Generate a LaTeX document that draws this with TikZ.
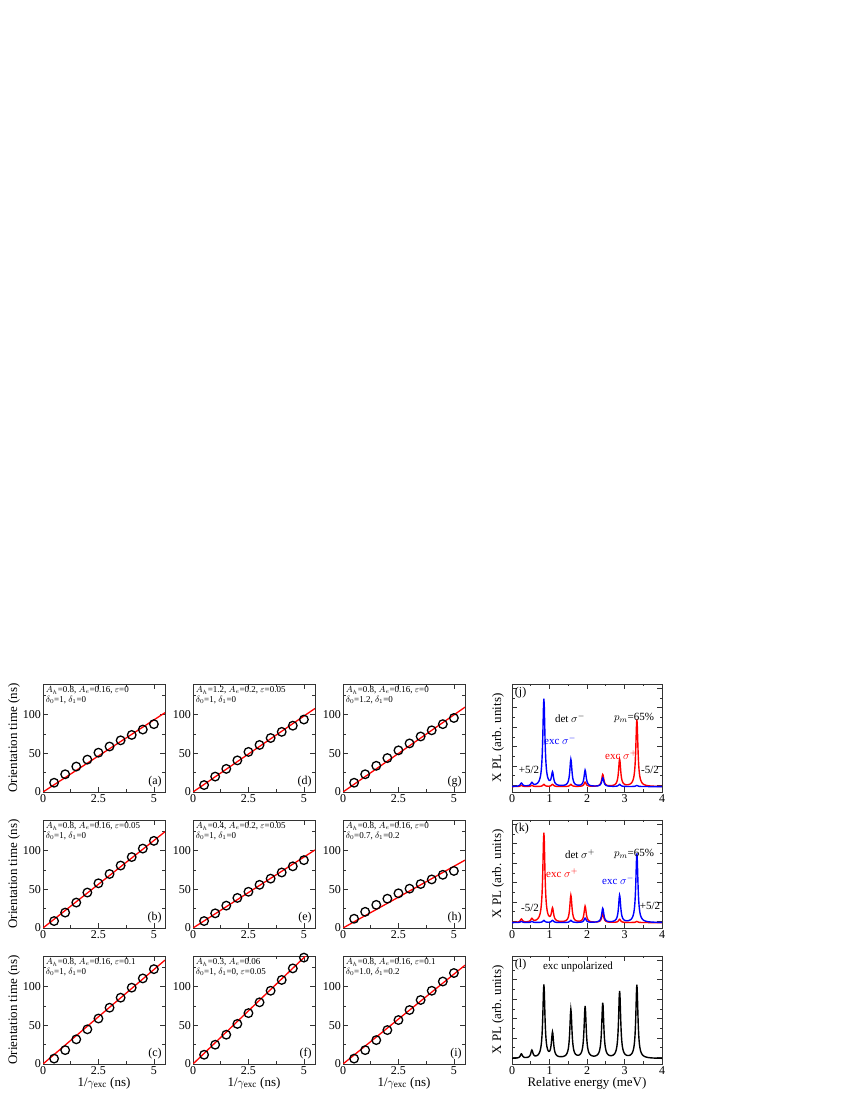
\documentclass[tikz,border=0pt]{standalone}
\usepackage{fontspec}
\setmainfont{Liberation Serif}
\tikzset{
  frame/.style={draw=black!80,line width=0.8pt},
  fitline/.style={red,line width=1.3pt},
  dot/.style={black,line width=1.3pt},
  paneltext/.style={font=\fontsize{9}{10}\selectfont,align=left,inner sep=1pt},
  ticklab/.style={font=\fontsize{12}{12}\selectfont,inner sep=2pt},
  axlab/.style={font=\fontsize{13}{13}\selectfont},
  spec/.style={line width=1.4pt},
  declare function={L(\x,\c)=1/(1+((\x-\c)*(\x-\c))/0.0011);}
}
% panel de tiempos de orientacion
\newcommand{\orpanel}[8]{%
  \begin{scope}[shift={(#1,#2)},x=22.18pt,y=0.771pt]
    \draw[frame] (0,0) rectangle (5.5,140);
    \foreach \v in {0,2.5,5} {\draw[frame] (\v,0) -- ++(0,5pt); \draw[frame] (\v,140) -- ++(0,-5pt);
      \node[ticklab,below] (#8-x\v) at (\v,0) {\v};}
    \foreach \v in {1.25,3.75} {\draw[frame] (\v,0) -- ++(0,2.5pt); \draw[frame] (\v,140) -- ++(0,-2.5pt);}
    \foreach \v in {0,50,100} {\draw[frame] (0,\v) -- ++(5pt,0); \draw[frame] (5.5,\v) -- ++(-5pt,0);
      \node[ticklab,left] (#8-y\v) at (0,\v) {\v};}
    \foreach \v in {25,75,125} {\draw[frame] (0,\v) -- ++(2.5pt,0); \draw[frame] (5.5,\v) -- ++(-2.5pt,0);}
    \begin{scope}
      \clip (0,0) rectangle (5.5,140);
      \draw[fitline] (0,0) -- (5.5,{5.5*#3});
    \end{scope}
    \foreach \py [count=\i] in {#4} \draw[dot] ({\i*0.5},\py) circle (4.3pt);
    \node[paneltext,anchor=north west] (#8-t) at (0.08,138) {#5\\#6};
    \node[ticklab,anchor=south east] (#8-l) at (5.45,3) {(#7)};
  \end{scope}}
% panel de espectros
\newcommand{\plpanel}[4]{%
  \begin{scope}[shift={(#1,#2)},x=37.5pt,y=108pt]
    \draw[frame] (0,0) rectangle (4,1);
    \foreach \v in {0,...,4} {\draw[frame] (\v,0) -- ++(0,5pt); \draw[frame] (\v,1) -- ++(0,-5pt);
      \node[ticklab,below] (#3-x\v) at (\v,0) {\v};}
    \foreach \v in {0.5,1.5,2.5,3.5} {\draw[frame] (\v,0) -- ++(0,2.5pt); \draw[frame] (\v,1) -- ++(0,-2.5pt);}
    \foreach \v in {0.06,0.24,0.42,0.6,0.78,0.96} {\draw[frame] (0,\v) -- ++(5pt,0); \draw[frame] (4,\v) -- ++(-5pt,0);}
    \foreach \v in {0.15,0.33,0.51,0.69,0.87} {\draw[frame] (0,\v) -- ++(2.5pt,0); \draw[frame] (4,\v) -- ++(-2.5pt,0);}
    \begin{scope}
      \clip (0,0) rectangle (4,1);
      #4
    \end{scope}
    \node[ticklab,anchor=north west] (#3-l) at (0.02,0.99) {(#3)};
  \end{scope}}
\newcommand{\spectrum}[2]{%
  \draw[spec,#1] plot[domain=0:4,samples=401] (\x,{0.05+\specsum{#2}});}
\newcommand{\specsum}[1]{\specsumi#1\relax}
\def\specsumi#1,#2,#3,#4,#5,#6,#7,#8,#9\relax{#1*L(\x,0.25)+#2*L(\x,0.53)+#3*L(\x,0.85)+#4*L(\x,1.08)+#5*L(\x,1.57)+#6*L(\x,1.95)+#7*L(\x,2.42)+#8*L(\x,2.87)+#9*L(\x,3.33)}

\begin{document}
\begin{tikzpicture}[x=1pt,y=1pt]
  \useasboundingbox (0,0) rectangle (850,1100);
  % fila superior
  \orpanel{43}{308}{18.7}{12,23,33,42,51,59,67,74,81,88}{$A_h$=0.8, $A_e$=0.16, $\varepsilon$=0}{$\delta_0$=1, $\delta_1$=0}{a}{pa}
  \orpanel{193}{308}{19.7}{9,20,30,41,52,61,70,78,86,94}{$A_h$=1.2, $A_e$=0.2, $\varepsilon$=0.05}{$\delta_0$=1, $\delta_1$=0}{d}{pd}
  \orpanel{343}{308}{20}{12,23,34,44,54,63,72,80,88,96}{$A_h$=0.8, $A_e$=0.16, $\varepsilon$=0}{$\delta_0$=1.2, $\delta_1$=0}{g}{pg}
  % fila media
  \orpanel{43}{172}{22.7}{9,20,33,46,58,70,81,92,103,113}{$A_h$=0.8, $A_e$=0.16, $\varepsilon$=0.05}{$\delta_0$=1, $\delta_1$=0}{b}{pb}
  \orpanel{193}{172}{18.4}{9,19,29,39,47,56,64,72,80,88}{$A_h$=0.4, $A_e$=0.2, $\varepsilon$=0.05}{$\delta_0$=1, $\delta_1$=0}{e}{pe}
  \orpanel{343}{172}{16}{12,21,30,38,45,51,57,63,69,74}{$A_h$=0.8, $A_e$=0.16, $\varepsilon$=0}{$\delta_0$=0.7, $\delta_1$=0.2}{h}{ph}
  % fila inferior
  \orpanel{43}{36}{24.5}{7,18,32,45,59,73,86,99,111,123}{$A_h$=0.8, $A_e$=0.16, $\varepsilon$=0.1}{$\delta_0$=1, $\delta_1$=0}{c}{pc}
  \orpanel{193}{36}{27.6}{12,25,38,52,66,80,95,109,124,138}{$A_h$=0.3, $A_e$=0.06}{$\delta_0$=1, $\delta_1$=0, $\varepsilon$=0.05}{f}{pf}
  \orpanel{343}{36}{23.3}{7,18,31,44,57,70,83,95,107,118}{$A_h$=0.8, $A_e$=0.16, $\varepsilon$=0.1}{$\delta_0$=1.0, $\delta_1$=0.2}{i}{pi}
  % espectros
  \plpanel{512}{308}{j}{%
    \spectrum{red}{0.01,0.01,0.02,0.02,0.02,0.04,0.11,0.25,0.62}
    \spectrum{blue}{0.03,0.03,0.81,0.12,0.25,0.15,0.08,0.02,0.01}}
  \plpanel{512}{172}{k}{%
    \spectrum{red}{0.03,0.03,0.83,0.12,0.25,0.15,0.08,0.03,0.01}
    \spectrum{blue}{0.01,0.01,0.02,0.02,0.02,0.04,0.13,0.25,0.64}}
  \plpanel{512}{36}{l}{%
    \spectrum{black}{0.04,0.07,0.68,0.23,0.45,0.48,0.51,0.62,0.68}}
  % textos de los espectros
  \node[paneltext,font=\fontsize{11}{11}\selectfont] (jdet) at (570,382) {det $\sigma^-$};
  \node[paneltext,font=\fontsize{11}{11}\selectfont] (jpm) at (634,382) {$p_m$=65\%};
  \node[paneltext,font=\fontsize{11}{11}\selectfont,blue] (jb) at (560,360) {exc $\sigma^-$};
  \node[paneltext,font=\fontsize{11}{11}\selectfont,red] (jr) at (621,345) {exc $\sigma^+$};
  \node[paneltext,font=\fontsize{11}{11}\selectfont] (jp) at (529,330) {+5/2};
  \node[paneltext,font=\fontsize{11}{11}\selectfont] (jm) at (650,330) {-5/2};
  \node[paneltext,font=\fontsize{11}{11}\selectfont] (kdet) at (580,246) {det $\sigma^+$};
  \node[paneltext,font=\fontsize{11}{11}\selectfont] (kpm) at (634,246) {$p_m$=65\%};
  \node[paneltext,font=\fontsize{11}{11}\selectfont,red] (kr) at (562,227) {exc $\sigma^+$};
  \node[paneltext,font=\fontsize{11}{11}\selectfont,blue] (kb) at (618,220) {exc $\sigma^-$};
  \node[paneltext,font=\fontsize{11}{11}\selectfont] (km) at (530,192) {-5/2};
  \node[paneltext,font=\fontsize{11}{11}\selectfont] (kp) at (650,194) {+5/2};
  \node[paneltext,font=\fontsize{11}{11}\selectfont] (lun) at (578,133) {exc unpolarized};
  % ejes
  \foreach \yy/\nm in {308/r1,172/r2,36/r3}
    \node[axlab,rotate=90] (ot-\nm) at (14,\yy+54) {Orientation time (ns)};
  \foreach \xx/\nm in {43/c1,193/c2,343/c3}
    \node[axlab] (gx-\nm) at (\xx+61,17) {1/$\gamma_{\mathrm{exc}}$ (ns)};
  \foreach \yy/\nm in {308/r1,172/r2,36/r3}
    \node[axlab,rotate=90] (xpl-\nm) at (498,\yy+54) {X PL (arb. units)};
  \node[axlab] (relE) at (587,17) {Relative energy (meV)};
\end{tikzpicture}
\end{document}
